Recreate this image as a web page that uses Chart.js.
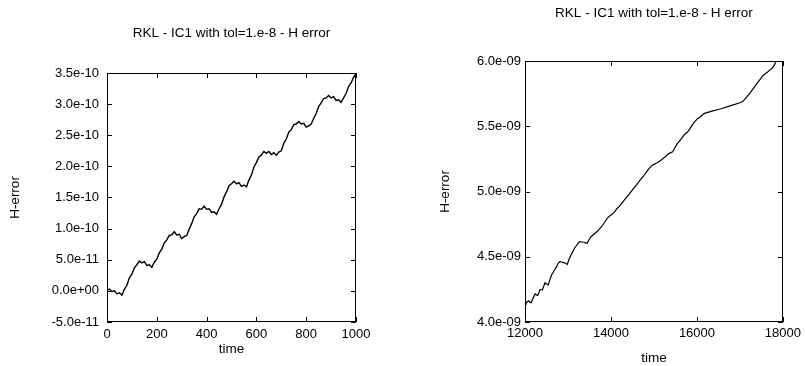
<!DOCTYPE html>
<html>
<head>
<meta charset="utf-8">
<script src="https://cdn.jsdelivr.net/npm/chart.js@4"></script>
<style>
  html, body { margin: 0; padding: 0; background: #fff; overflow: hidden; }
  #wrap { position: relative; width: 805px; height: 366px; }
  canvas { position: absolute; top: 0; }
  #left { left: 0; }
  #right { left: 400px; }
</style>
</head>
<body>
<div id="wrap">
  <canvas id="left" width="400" height="366"></canvas>
  <canvas id="right" width="405" height="366"></canvas>
</div>
<script>
const titleText = 'RKL - IC1 with tol=1.e-8 - H error';
const xTitle = 'time';
const yTitle = 'H-error';

// Early run: time 0..1000
const leftTime = [
  0, 10, 20, 30, 40, 50, 60, 70, 80, 90,
  100, 110, 120, 130, 140, 150, 160, 170, 180, 190,
  200, 210, 220, 230, 240, 250, 260, 270, 280, 290,
  300, 310, 320, 330, 340, 350, 360, 370, 380, 390,
  400, 410, 420, 430, 440, 450, 460, 470, 480, 490,
  500, 510, 520, 530, 540, 550, 560, 570, 580, 590,
  600, 610, 620, 630, 640, 650, 660, 670, 680, 690,
  700, 710, 720, 730, 740, 750, 760, 770, 780, 790,
  800, 810, 820, 830, 840, 850, 860, 870, 880, 890,
  900, 910, 920, 930, 940, 950, 960, 970, 980, 990,
  1000
];
const leftHError = [
  0.1e-11, 0.3e-11, -0.1e-11, 0.0e-11, -0.5e-11, -0.3e-11, -0.7e-11, 0.3e-11, 0.9e-11, 2.1e-11,
  2.7e-11, 3.7e-11, 4.2e-11, 4.8e-11, 4.5e-11, 4.7e-11, 4.1e-11, 4.2e-11, 3.8e-11, 4.6e-11,
  5.1e-11, 6.1e-11, 6.7e-11, 7.7e-11, 8.2e-11, 8.9e-11, 9.0e-11, 9.5e-11, 9.0e-11, 9.1e-11,
  8.4e-11, 8.7e-11, 8.9e-11, 9.9e-11, 10.8e-11, 11.9e-11, 12.4e-11, 13.2e-11, 13.1e-11, 13.6e-11,
  13.1e-11, 13.2e-11, 12.6e-11, 12.7e-11, 12.3e-11, 13.2e-11, 13.9e-11, 15.1e-11, 15.9e-11, 16.9e-11,
  17.2e-11, 17.6e-11, 17.2e-11, 17.4e-11, 16.8e-11, 17.0e-11, 16.7e-11, 17.8e-11, 18.6e-11, 19.9e-11,
  20.6e-11, 21.5e-11, 21.8e-11, 22.4e-11, 22.1e-11, 22.4e-11, 21.9e-11, 22.2e-11, 21.8e-11, 22.3e-11,
  22.5e-11, 23.7e-11, 24.4e-11, 25.5e-11, 25.9e-11, 26.7e-11, 26.8e-11, 27.2e-11, 26.8e-11, 26.9e-11,
  26.3e-11, 26.5e-11, 26.8e-11, 27.7e-11, 28.5e-11, 29.6e-11, 30.2e-11, 30.9e-11, 31.0e-11, 31.4e-11,
  31.0e-11, 31.2e-11, 30.6e-11, 30.7e-11, 30.3e-11, 31.0e-11, 31.7e-11, 32.8e-11, 33.4e-11, 34.3e-11,
  34.9e-11
];
const leftXTicks = [0, 200, 400, 600, 800, 1000];
const leftYTicks = [-5e-11, 0, 5e-11, 1e-10, 1.5e-10, 2e-10, 2.5e-10, 3e-10, 3.5e-10];

// Late run: time 12000..18000
const rightTime = [
  12000, 12023, 12050, 12084, 12110, 12145, 12190, 12237, 12270, 12298,
  12351, 12380, 12404, 12465, 12500, 12542, 12580, 12618, 12680, 12733,
  12770, 12809, 12850, 12885, 12940, 12985, 13020, 13061, 13110, 13153,
  13210, 13267, 13320, 13367, 13410, 13443, 13490, 13534, 13580, 13626,
  13680, 13725, 13780, 13825, 13880, 13931, 14000, 14068, 14140, 14221,
  14300, 14375, 14450, 14527, 14600, 14679, 14750, 14832, 14890, 14947,
  15000, 15062, 15120, 15168, 15250, 15320, 15380, 15435, 15490, 15549,
  15630, 15702, 15740, 15778, 15840, 15893, 15950, 16007, 16083, 16130,
  16175, 16350, 16541, 16770, 16999, 17040, 17076, 17150, 17228, 17300,
  17381, 17460, 17534, 17590, 17649, 17700, 17748, 17800, 17839, 17860
];
const rightHError = [
  4.133e-9, 4.143e-9, 4.155e-9, 4.163e-9, 4.152e-9, 4.148e-9, 4.185e-9, 4.215e-9, 4.208e-9, 4.204e-9,
  4.250e-9, 4.247e-9, 4.245e-9, 4.301e-9, 4.292e-9, 4.284e-9, 4.325e-9, 4.360e-9, 4.395e-9, 4.424e-9,
  4.448e-9, 4.462e-9, 4.460e-9, 4.457e-9, 4.450e-9, 4.442e-9, 4.478e-9, 4.506e-9, 4.538e-9, 4.565e-9,
  4.592e-9, 4.615e-9, 4.613e-9, 4.611e-9, 4.606e-9, 4.603e-9, 4.630e-9, 4.654e-9, 4.665e-9, 4.680e-9,
  4.693e-9, 4.710e-9, 4.730e-9, 4.751e-9, 4.778e-9, 4.802e-9, 4.820e-9, 4.838e-9, 4.868e-9, 4.897e-9,
  4.930e-9, 4.960e-9, 4.992e-9, 5.024e-9, 5.052e-9, 5.088e-9, 5.115e-9, 5.152e-9, 5.178e-9, 5.198e-9,
  5.208e-9, 5.218e-9, 5.230e-9, 5.241e-9, 5.262e-9, 5.285e-9, 5.296e-9, 5.305e-9, 5.338e-9, 5.369e-9,
  5.402e-9, 5.433e-9, 5.446e-9, 5.454e-9, 5.484e-9, 5.510e-9, 5.535e-9, 5.556e-9, 5.573e-9, 5.588e-9,
  5.599e-9, 5.616e-9, 5.632e-9, 5.656e-9, 5.680e-9, 5.686e-9, 5.693e-9, 5.722e-9, 5.752e-9, 5.785e-9,
  5.821e-9, 5.855e-9, 5.887e-9, 5.903e-9, 5.918e-9, 5.932e-9, 5.944e-9, 5.968e-9, 6.000e-9, 6.012e-9
];
const rightXTicks = [12000, 14000, 16000, 18000];
const rightYTicks = [4e-9, 4.5e-9, 5e-9, 5.5e-9, 6e-9];

Chart.defaults.font.family = '"Liberation Sans", Arial, Helvetica, sans-serif';
Chart.defaults.font.size = 13;
Chart.defaults.color = '#000';

// "3.5e-10", "0.0e+00", "5.0e-09": one decimal, two-digit exponent
function sciLabel(v) {
  return Number(v).toExponential(1).replace(/e([+-])(\d)$/, 'e$10$2');
}

// Frame around the plot area plus tick marks pointing inward on all four sides
const frameTicks = {
  id: 'frameTicks',
  afterDatasetsDraw(chart) {
    const { ctx, chartArea: a, scales: { x, y } } = chart;
    const len = 5;
    ctx.save();
    ctx.strokeStyle = '#000';
    ctx.lineWidth = 1;
    ctx.beginPath();
    x.ticks.forEach(t => {
      const px = Math.round(x.getPixelForValue(t.value)) + 0.5;
      ctx.moveTo(px, a.bottom); ctx.lineTo(px, a.bottom - len);
      ctx.moveTo(px, a.top); ctx.lineTo(px, a.top + len);
    });
    y.ticks.forEach(t => {
      const py = Math.round(y.getPixelForValue(t.value)) + 0.5;
      ctx.moveTo(a.left, py); ctx.lineTo(a.left + len, py);
      ctx.moveTo(a.right, py); ctx.lineTo(a.right - len, py);
    });
    ctx.stroke();
    ctx.strokeRect(Math.round(a.left) + 0.5, Math.round(a.top) + 0.5,
                   Math.round(a.width) - 1, Math.round(a.height) - 1);
    ctx.restore();
  }
};

function makeChart(id, time, values, xTicks, yTicks, g) {
  return new Chart(document.getElementById(id), {
    type: 'line',
    data: {
      datasets: [{
        data: time.map((t, i) => ({ x: t, y: values[i] })),
        borderColor: '#000',
        borderWidth: g.lineWidth,
        pointRadius: 0,
        tension: 0,
        fill: false
      }]
    },
    options: {
      responsive: false,
      animation: false,
      events: [],
      layout: { padding: { left: 0, right: g.padRight, top: 0, bottom: 0 } },
      plugins: {
        legend: { display: false },
        tooltip: { enabled: false },
        title: {
          display: true,
          text: titleText,
          fullSize: false,
          color: '#000',
          font: { size: 13.5, weight: 'normal' },
          padding: { top: g.titleTop, bottom: g.titleBottom }
        }
      },
      scales: {
        x: {
          type: 'linear',
          min: xTicks[0],
          max: xTicks[xTicks.length - 1],
          afterBuildTicks: s => { s.ticks = xTicks.map(v => ({ value: v })); },
          afterFit: s => { s.height = g.xHeight; },
          grid: { display: false, drawTicks: false },
          border: { display: false },
          ticks: { padding: g.xTickPad, maxRotation: 0, autoSkip: false, color: '#000', font: { size: 13 },
                   callback: v => String(v) },
          title: { display: true, text: xTitle, color: '#000', font: { size: 13.5 },
                   padding: { top: 0, bottom: g.xTitlePad } }
        },
        y: {
          type: 'linear',
          min: yTicks[0],
          max: yTicks[yTicks.length - 1],
          afterBuildTicks: s => { s.ticks = yTicks.map(v => ({ value: v })); },
          afterFit: s => { s.width = g.yWidth; },
          grid: { display: false, drawTicks: false },
          border: { display: false },
          ticks: { padding: g.yTickPad, autoSkip: false, color: '#000', font: { size: 13 },
                   callback: v => sciLabel(v) },
          title: { display: true, text: yTitle, color: '#000', font: { size: 13.5 },
                   padding: { top: g.yTitlePad, bottom: 0 } }
        }
      }
    },
    plugins: [frameTicks]
  });
}

makeChart('left', leftTime, leftHError, leftXTicks, leftYTicks, {
  lineWidth: 1.4, padRight: 44, titleTop: 24.9, titleBottom: 31.9,
  xHeight: 44, xTickPad: 5, xTitlePad: 8.5, yWidth: 107, yTickPad: 8, yTitlePad: 6.9
});
makeChart('right', rightTime, rightHError, rightXTicks, rightYTicks, {
  lineWidth: 1.2, padRight: 18, titleTop: 4.9, titleBottom: 39.9,
  xHeight: 44, xTickPad: 4, xTitlePad: 0, yWidth: 125, yTickPad: 4, yTitlePad: 36.9
});
</script>
</body>
</html>
